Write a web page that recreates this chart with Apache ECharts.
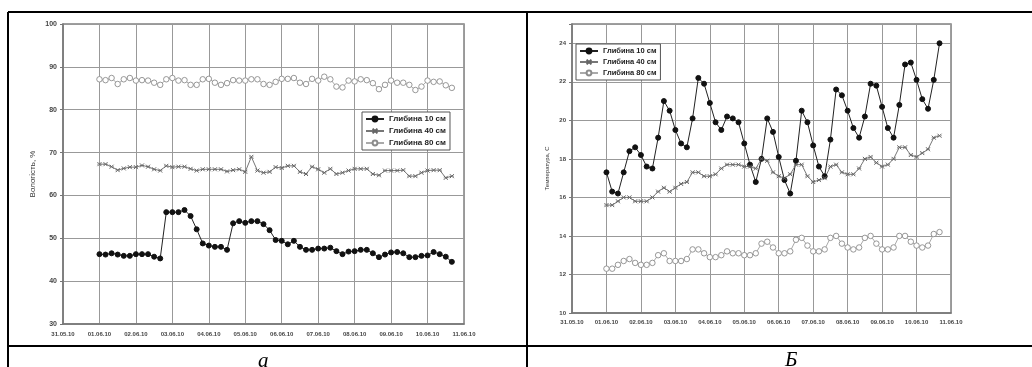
<!DOCTYPE html>
<html>
<head>
<meta charset="utf-8">
<script src="https://cdn.jsdelivr.net/npm/echarts@6/dist/echarts.min.js"></script>
<style>
  html, body { margin: 0; padding: 0; background: #fff; }
  #chart { width: 1032px; height: 367px; }
</style>
</head>
<body>
<div id="chart"></div>
<script>
// підписи днів на осі X (0 = 31.05.10)
const dayLabels = ['31.05.10', '01.06.10', '02.06.10', '03.06.10', '04.06.10', '05.06.10',
  '06.06.10', '07.06.10', '08.06.10', '09.06.10', '10.06.10', '11.06.10']
const seriesNames = ['Глибина 10 см', 'Глибина 40 см', 'Глибина 80 см']
// вимірювання кожні 4 години, починаючи з 01.06.10 00:00
const firstDay = 1
const stepDays = 4 / 24

// вологість, %
const moist10 = [46.3, 46.2, 46.5, 46.2, 45.9, 45.9, 46.3, 46.3, 46.3, 45.7,
  45.3, 56.1, 56.1, 56.1, 56.6, 55.2, 52.1, 48.8, 48.3, 48.0,
  48.0, 47.3, 53.5, 54.0, 53.6, 54.0, 54.0, 53.3, 51.9, 49.6,
  49.4, 48.6, 49.4, 48.0, 47.3, 47.3, 47.6, 47.6, 47.8, 47.0,
  46.3, 46.9, 47.0, 47.3, 47.3, 46.5, 45.6, 46.2, 46.7, 46.8,
  46.5, 45.6, 45.6, 45.9, 46.0, 46.8, 46.3, 45.7, 44.5]
const moist40 = [67.3, 67.3, 66.7, 65.9, 66.3, 66.6, 66.6, 67.0, 66.7, 66.1,
  65.8, 66.9, 66.6, 66.7, 66.7, 66.2, 65.8, 66.1, 66.1, 66.1,
  66.1, 65.6, 65.9, 66.1, 65.5, 69.0, 65.8, 65.3, 65.5, 66.6,
  66.4, 66.9, 66.9, 65.5, 65.0, 66.7, 66.1, 65.3, 66.2, 65.0,
  65.3, 65.8, 66.2, 66.2, 66.2, 65.0, 64.7, 65.8, 65.8, 65.8,
  65.9, 64.5, 64.5, 65.3, 65.8, 65.9, 65.9, 64.1, 64.5]
const moist80 = [87.1, 86.9, 87.4, 86.0, 87.1, 87.4, 86.8, 86.9, 86.8, 86.3,
  85.8, 87.1, 87.4, 86.8, 86.9, 85.8, 85.8, 87.1, 87.2, 86.3,
  85.8, 86.2, 86.9, 86.8, 86.8, 87.1, 87.1, 86.0, 85.8, 86.5,
  87.2, 87.2, 87.4, 86.3, 86.0, 87.2, 86.8, 87.7, 87.1, 85.4,
  85.2, 86.8, 86.6, 87.1, 86.9, 86.2, 84.8, 85.8, 86.8, 86.3,
  86.3, 85.8, 84.6, 85.4, 86.8, 86.5, 86.6, 85.7, 85.1]

// температура, С
const temp10 = [17.3, 16.3, 16.2, 17.3, 18.4, 18.6, 18.2, 17.6, 17.5, 19.1,
  21.0, 20.5, 19.5, 18.8, 18.6, 20.1, 22.2, 21.9, 20.9, 19.9,
  19.5, 20.2, 20.1, 19.9, 18.8, 17.7, 16.8, 18.0, 20.1, 19.4,
  18.1, 16.9, 16.2, 17.9, 20.5, 19.9, 18.7, 17.6, 17.1, 19.0,
  21.6, 21.3, 20.5, 19.6, 19.1, 20.2, 21.9, 21.8, 20.7, 19.6,
  19.1, 20.8, 22.9, 23.0, 22.1, 21.1, 20.6, 22.1, 24.0]
const temp40 = [15.6, 15.6, 15.8, 16.0, 16.0, 15.8, 15.8, 15.8, 16.0, 16.3,
  16.5, 16.3, 16.5, 16.7, 16.8, 17.3, 17.3, 17.1, 17.1, 17.2,
  17.5, 17.7, 17.7, 17.7, 17.6, 17.6, 17.5, 18.0, 17.9, 17.3,
  17.1, 17.0, 17.2, 17.7, 17.7, 17.1, 16.8, 16.9, 17.0, 17.6,
  17.7, 17.3, 17.2, 17.2, 17.5, 18.0, 18.1, 17.8, 17.6, 17.7,
  18.0, 18.6, 18.6, 18.2, 18.1, 18.3, 18.5, 19.1, 19.2]
const temp80 = [12.3, 12.3, 12.5, 12.7, 12.8, 12.6, 12.5, 12.5, 12.6, 13.0,
  13.1, 12.7, 12.7, 12.7, 12.8, 13.3, 13.3, 13.1, 12.9, 12.9,
  13.0, 13.2, 13.1, 13.1, 13.0, 13.0, 13.1, 13.6, 13.7, 13.4,
  13.1, 13.1, 13.2, 13.8, 13.9, 13.5, 13.2, 13.2, 13.3, 13.9,
  14.0, 13.6, 13.4, 13.3, 13.4, 13.9, 14.0, 13.6, 13.3, 13.3,
  13.4, 14.0, 14.0, 13.7, 13.5, 13.4, 13.5, 14.1, 14.2]

const font = 'Liberation Sans, Arial, sans-serif'
const crossPath = 'path://M0,0L10,10M10,0L0,10M0,5L2,5M8,5L10,5'

function toPoints (values) {
  return values.map((v, i) => [firstDay + i * stepDays, v])
}

// стиль ліній для трьох глибин
const looks = [
  { symbol: 'circle', color: '#111', fill: '#111', line: '#222', size: 5, border: 1 },
  { symbol: crossPath, color: '#666', fill: '#666', line: '#777', size: 4, border: 1 },
  { symbol: 'circle', color: '#8c8c8c', fill: '#fff', line: '#aaa', size: 5.5, border: 0.9 }
]

function makeSeries (values, k, idx) {
  const look = looks[k]
  return {
    name: seriesNames[k],
    type: 'line',
    xAxisIndex: idx,
    yAxisIndex: idx,
    data: toPoints(values),
    symbol: look.symbol,
    symbolSize: look.size,
    showAllSymbol: true,
    color: look.color,
    lineStyle: { color: look.line, width: 1 },
    itemStyle: { color: look.fill, borderColor: look.color, borderWidth: look.border },
    animation: false
  }
}

function xAxis (gridIndex) {
  return {
    type: 'value',
    gridIndex: gridIndex,
    min: 0,
    max: 11,
    interval: 1,
    axisLine: { show: true, lineStyle: { color: '#777', width: 1.5 } },
    axisTick: { show: false },
    splitLine: { show: true, lineStyle: { color: '#999', width: 1 } },
    axisLabel: {
      formatter: v => dayLabels[v],
      fontSize: 6,
      fontWeight: 'bold',
      color: '#444',
      fontFamily: font,
      margin: gridIndex === 0 ? 7 : 6
    }
  }
}

const labelStyle = { fontSize: 7, fontWeight: 'bold', color: '#444', fontFamily: font }

const chart = echarts.init(document.getElementById('chart'))
chart.setOption({
  animation: false,
  textStyle: { fontFamily: font },
  grid: [
    { left: 63, top: 24, width: 401, height: 300, show: true, borderColor: '#808080', borderWidth: 1.5, backgroundColor: '#fff' },
    { left: 572, top: 24, width: 379, height: 289, show: true, borderColor: '#808080', borderWidth: 1.5, backgroundColor: '#fff' }
  ],
  xAxis: [xAxis(0), xAxis(1)],
  yAxis: [
    {
      type: 'value',
      gridIndex: 0,
      min: 30,
      max: 100,
      interval: 10,
      name: 'Вологість, %',
      nameLocation: 'middle',
      nameGap: 26,
      nameTextStyle: { fontSize: 8, color: '#333', fontFamily: font },
      axisLine: { show: true, lineStyle: { color: '#777', width: 1.5 } },
      axisTick: { show: true, length: 3, lineStyle: { color: '#777' } },
      splitLine: { show: true, lineStyle: { color: '#999', width: 1 } },
      axisLabel: Object.assign({ margin: 6 }, labelStyle)
    },
    {
      type: 'value',
      gridIndex: 1,
      min: 10,
      max: 25,
      interval: 2,
      name: 'Температура, С',
      nameLocation: 'middle',
      nameGap: 22,
      nameTextStyle: { fontSize: 6, color: '#333', fontFamily: font },
      axisLine: { show: true, lineStyle: { color: '#777', width: 1.5 } },
      axisTick: { show: true, length: 3, lineStyle: { color: '#777' } },
      splitLine: { show: true, lineStyle: { color: '#999', width: 1 } },
      axisLabel: Object.assign({ margin: 6, formatter: v => (v > 24 ? '' : v) }, labelStyle, { fontSize: 6 })
    }
  ],
  legend: [
    {
      data: seriesNames,
      orient: 'vertical',
      left: 362,
      top: 112,
      itemWidth: 18,
      itemHeight: 6,
      itemGap: 4,
      padding: [3, 4, 3, 3],
      backgroundColor: '#fff',
      borderColor: '#555',
      borderWidth: 1,
      textStyle: { fontSize: 8, fontWeight: 'bold', color: '#222', fontFamily: font }
    },
    {
      data: seriesNames,
      orient: 'vertical',
      left: 576,
      top: 44,
      itemWidth: 18,
      itemHeight: 6,
      itemGap: 3,
      padding: [3, 4, 3, 3],
      backgroundColor: '#fff',
      borderColor: '#555',
      borderWidth: 1,
      textStyle: { fontSize: 7.5, fontWeight: 'bold', color: '#222', fontFamily: font }
    }
  ],
  series: [
    makeSeries(moist10, 0, 0),
    makeSeries(moist40, 1, 0),
    makeSeries(moist80, 2, 0),
    makeSeries(temp10, 0, 1),
    makeSeries(temp40, 1, 1),
    makeSeries(temp80, 2, 1)
  ],
  // рамка таблиці та підписи під рисунками
  graphic: [
    { type: 'line', shape: { x1: 8, y1: 12, x2: 1032, y2: 12 }, style: { stroke: '#000', lineWidth: 2 } },
    { type: 'line', shape: { x1: 8, y1: 12, x2: 8, y2: 367 }, style: { stroke: '#000', lineWidth: 2 } },
    { type: 'line', shape: { x1: 527, y1: 12, x2: 527, y2: 367 }, style: { stroke: '#000', lineWidth: 2 } },
    { type: 'line', shape: { x1: 8, y1: 346, x2: 1032, y2: 346 }, style: { stroke: '#000', lineWidth: 2 } },
    {
      type: 'text', left: 258, top: 351,
      style: { text: 'а', font: 'italic 21px "Liberation Serif", serif', fill: '#000' }
    },
    {
      type: 'text', left: 785, top: 350,
      style: { text: 'Б', font: 'italic 21px "Liberation Serif", serif', fill: '#000' }
    }
  ]
})
</script>
</body>
</html>
